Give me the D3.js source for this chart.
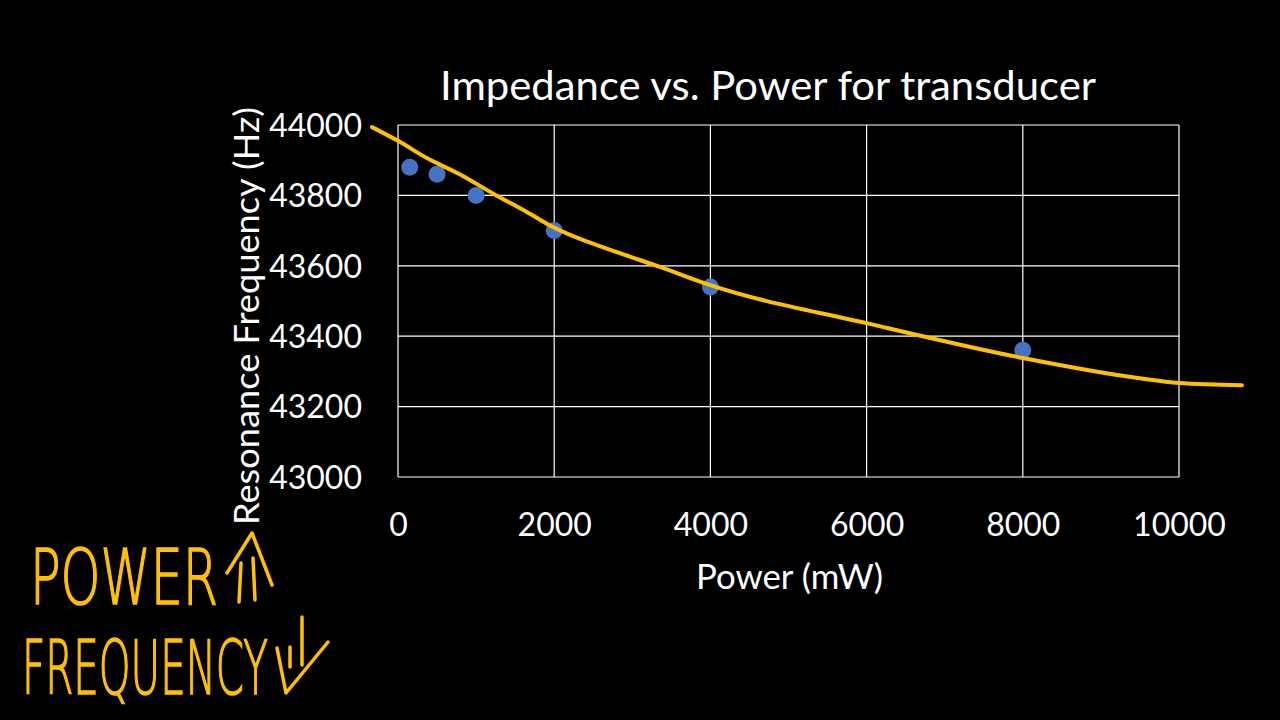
<!DOCTYPE html>
<html><head><meta charset="utf-8">
<script src="https://cdn.jsdelivr.net/npm/d3@7/dist/d3.min.js"></script>
<style>html,body{margin:0;padding:0;background:#000;}</style>
</head><body>
<svg id="c" width="1280" height="720"></svg>
<script>
// Data
const powerValues = [150, 500, 1000, 2000, 4000, 8000];
const frequencyValues = [43880, 43860, 43800, 43700, 43540, 43360];
// Hand-drawn trend curve (traced)
const trendPower = [-333, 0, 370, 790, 1220, 1650, 1985, 2840, 3354, 4000, 6000, 8000, 9475, 10000, 10806];
const trendFreq = [43994, 43955, 43906, 43860, 43805, 43753, 43710, 43636, 43597, 43545, 43437, 43338, 43281, 43267, 43261];
const xTicks = [0, 2000, 4000, 6000, 8000, 10000];
const yTicks = [43000, 43200, 43400, 43600, 43800, 44000];
const titleText = "Impedance vs. Power for transducer";
const xLabel = "Power (mW)";
const yLabel = "Resonance Frequency (Hz)";
const noteLine1 = "POWER";
const noteLine2 = "FREQUENCY";

const svg = d3.select("#c");
svg.append("rect").attr("width",1280).attr("height",720).attr("fill","#000");
const L=398,R=1179,T=125,B=477;
const x = d3.scaleLinear().domain([0,10000]).range([L,R]);
const y = d3.scaleLinear().domain([43000,44000]).range([B,T]);
const font = "Lato, 'Open Sans', sans-serif";

// gridlines
svg.append("g").selectAll("line.v").data(xTicks).join("line")
  .attr("x1",d=>x(d)).attr("x2",d=>x(d)).attr("y1",T).attr("y2",B)
  .attr("stroke","#fff").attr("stroke-width",1.2);
svg.append("g").selectAll("line.h").data(yTicks).join("line")
  .attr("x1",L).attr("x2",R).attr("y1",d=>y(d)).attr("y2",d=>y(d))
  .attr("stroke","#fff").attr("stroke-width",1.2);

// axes (labels only)
const xAxis = d3.axisBottom(x).tickValues(xTicks).tickSize(0).tickPadding(0).tickFormat(d3.format("d"));
const gx = svg.append("g").attr("transform",`translate(0,${B+48})`).call(xAxis);
gx.select(".domain").remove();
gx.selectAll("text").attr("fill","#fff").attr("font-family",font).attr("font-size",32).attr("dy","0.35em").attr("y",0);
const yAxis = d3.axisLeft(y).tickValues(yTicks).tickSize(0).tickPadding(0).tickFormat(d3.format("d"));
const gy = svg.append("g").attr("transform",`translate(${L-36},0)`).call(yAxis);
gy.select(".domain").remove();
gy.selectAll("text").attr("fill","#fff").attr("font-family",font).attr("font-size",32).attr("dy","0.35em").attr("x",0);

// titles
svg.append("text").attr("x",440).attr("y",100)
  .attr("textLength",656).attr("lengthAdjust","spacingAndGlyphs")
  .attr("fill","#fff").attr("font-family",font).attr("font-size",40).text(titleText);
svg.append("text").attr("x",696).attr("y",589)
  .attr("textLength",187).attr("lengthAdjust","spacingAndGlyphs")
  .attr("fill","#fff").attr("font-family",font).attr("font-size",34).text(xLabel);
svg.append("text").attr("transform","translate(259,525) rotate(-90)")
  .attr("textLength",418).attr("lengthAdjust","spacingAndGlyphs")
  .attr("fill","#fff").attr("font-family",font).attr("font-size",34).text(yLabel);

// points
svg.append("g").selectAll("circle").data(powerValues.map((p,i)=>[p,frequencyValues[i]])).join("circle")
  .attr("cx",d=>x(d[0])).attr("cy",d=>y(d[1])).attr("r",8.5).attr("fill","#4472C4");

// hand drawn curve
const curveData = trendPower.map((p,i)=>[p,trendFreq[i]]);
const line = d3.line().x(d=>x(d[0])).y(d=>y(d[1])).curve(d3.curveMonotoneX);
svg.append("path").attr("d",line(curveData)).attr("fill","none")
  .attr("stroke","#FFC000").attr("stroke-width",4).attr("stroke-linecap","round");

// handwritten annotation
const orange = "#FFC000";
const hw = svg.append("g").attr("fill",orange).attr("stroke",orange).attr("stroke-width",1.6)
  .attr("font-family","'DejaVu Sans', sans-serif").attr("font-weight",200);
hw.append("text").attr("x",30).attr("y",604).attr("font-size",76)
  .attr("textLength",188).attr("lengthAdjust","spacingAndGlyphs").text(noteLine1);
hw.append("text").attr("x",22).attr("y",694).attr("font-size",74)
  .attr("textLength",246).attr("lengthAdjust","spacingAndGlyphs").text(noteLine2);
const arrows = svg.append("g").attr("stroke",orange).attr("stroke-width",3.5).attr("fill","none")
  .attr("stroke-linecap","round").attr("stroke-linejoin","round");
arrows.append("path").attr("d","M227,573 L252,533 L272,585");
arrows.append("path").attr("d","M241,563 L239,602");
arrows.append("path").attr("d","M253,558 L255,600");
arrows.append("path").attr("d","M277,648 L286,693 L328,642");
arrows.append("path").attr("d","M290,647 L290,667");
arrows.append("path").attr("d","M302,617 L302,665");
</script>
</body></html>
